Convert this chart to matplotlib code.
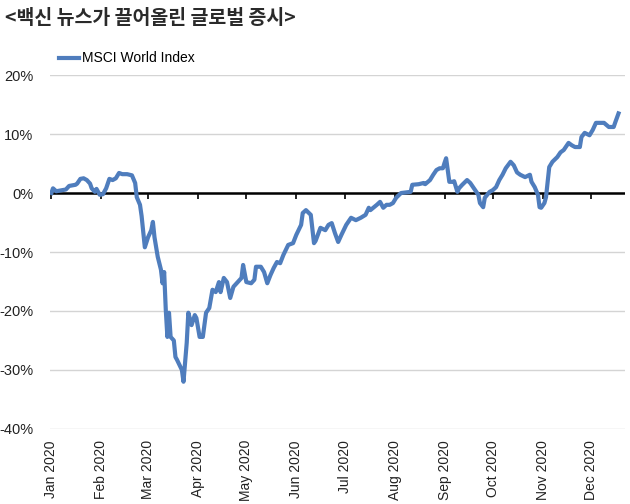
import numpy as np
import pandas as pd
import matplotlib
matplotlib.use("Agg")
import matplotlib.pyplot as plt
import matplotlib.dates as mdates
from matplotlib.ticker import FuncFormatter

plt.rcParams['font.family'] = ['Liberation Sans', 'Noto Sans CJK KR', 'DejaVu Sans']

# MSCI World Index, % change since start of 2020
dates = [
    "2020-01-01", "2020-01-02", "2020-01-04", "2020-01-06", "2020-01-10", "2020-01-12",
    "2020-01-16", "2020-01-17", "2020-01-19", "2020-01-21", "2020-01-23", "2020-01-25",
    "2020-01-26", "2020-01-28", "2020-01-29", "2020-01-31", "2020-02-02", "2020-02-04",
    "2020-02-06", "2020-02-08", "2020-02-10", "2020-02-12", "2020-02-14", "2020-02-17",
    "2020-02-20", "2020-02-22", "2020-02-23", "2020-02-25", "2020-02-26", "2020-02-28",
    "2020-03-01", "2020-03-03", "2020-03-04", "2020-03-05", "2020-03-07", "2020-03-09",
    "2020-03-10", "2020-03-11", "2020-03-12", "2020-03-13", "2020-03-14", "2020-03-15",
    "2020-03-17", "2020-03-18", "2020-03-19", "2020-03-22", "2020-03-23", "2020-03-25",
    "2020-03-26", "2020-03-28", "2020-03-30", "2020-03-31", "2020-04-02", "2020-04-04",
    "2020-04-06", "2020-04-08", "2020-04-10", "2020-04-12", "2020-04-14", "2020-04-15",
    "2020-04-17", "2020-04-19", "2020-04-21", "2020-04-23", "2020-04-25", "2020-04-28",
    "2020-04-29", "2020-05-01", "2020-05-04", "2020-05-06", "2020-05-07", "2020-05-10",
    "2020-05-12", "2020-05-14", "2020-05-16", "2020-05-18", "2020-05-20", "2020-05-22",
    "2020-05-24", "2020-05-27", "2020-05-30", "2020-06-01", "2020-06-04", "2020-06-05",
    "2020-06-07", "2020-06-10", "2020-06-12", "2020-06-13", "2020-06-16", "2020-06-19",
    "2020-06-21", "2020-06-23", "2020-06-25", "2020-06-27", "2020-06-29", "2020-07-02",
    "2020-07-05", "2020-07-08", "2020-07-11", "2020-07-14", "2020-07-16", "2020-07-17",
    "2020-07-21", "2020-07-23", "2020-07-25", "2020-07-27", "2020-07-29", "2020-07-31",
    "2020-08-02", "2020-08-05", "2020-08-08", "2020-08-11", "2020-08-12", "2020-08-16",
    "2020-08-19", "2020-08-20", "2020-08-23", "2020-08-25", "2020-08-27", "2020-08-29",
    "2020-08-31", "2020-09-01", "2020-09-02", "2020-09-04", "2020-09-06", "2020-09-07",
    "2020-09-09", "2020-09-10", "2020-09-12", "2020-09-15", "2020-09-17", "2020-09-20",
    "2020-09-22", "2020-09-23", "2020-09-25", "2020-09-26", "2020-09-29", "2020-10-01",
    "2020-10-03", "2020-10-05", "2020-10-07", "2020-10-09", "2020-10-12", "2020-10-14",
    "2020-10-16", "2020-10-18", "2020-10-21", "2020-10-24", "2020-10-25", "2020-10-27",
    "2020-10-29", "2020-10-30", "2020-10-31", "2020-11-02", "2020-11-03", "2020-11-05",
    "2020-11-07", "2020-11-10", "2020-11-12", "2020-11-14", "2020-11-17", "2020-11-19",
    "2020-11-21", "2020-11-24", "2020-11-25", "2020-11-27", "2020-11-30", "2020-12-02",
    "2020-12-04", "2020-12-06", "2020-12-09", "2020-12-12", "2020-12-15", "2020-12-16",
    "2020-12-18",
]
msci_world = [
    0.0, 0.8, 0.3, 0.4, 0.6, 1.2,
    1.4, 1.6, 2.4, 2.5, 2.2, 1.6,
    0.8, 0.2, 0.7, -0.3, -0.2, 0.8,
    2.4, 2.2, 2.5, 3.4, 3.2, 3.2,
    3.0, 1.7, -0.7, -2.0, -3.9, -9.2,
    -7.5, -6.3, -4.9, -7.5, -10.8, -13.0,
    -15.3, -13.4, -19.8, -24.4, -20.3, -24.4,
    -25.0, -27.8, -28.3, -30.0, -32.0, -25.4,
    -20.3, -22.4, -20.7, -21.2, -24.4, -24.4,
    -20.3, -19.5, -16.4, -16.8, -15.1, -16.8,
    -14.4, -15.1, -17.8, -15.9, -15.3, -14.4,
    -12.2, -15.1, -15.3, -14.7, -12.5, -12.5,
    -13.4, -15.3, -13.9, -12.7, -11.7, -11.9,
    -10.5, -8.8, -8.5, -7.1, -5.4, -3.4,
    -2.9, -3.7, -8.5, -8.1, -5.9, -6.3,
    -5.4, -5.1, -6.8, -8.3, -7.1, -5.4,
    -4.2, -4.6, -4.2, -3.7, -2.5, -2.9,
    -2.0, -1.5, -2.5, -2.0, -2.0, -1.7,
    -0.8, 0.0, 0.1, 0.2, 1.4, 1.5,
    1.7, 1.5, 2.2, 3.1, 3.9, 4.2,
    4.2, 5.1, 5.9, 1.9, 1.9, 2.0,
    0.2, 0.8, 1.4, 2.2, 1.7, 0.5,
    -0.3, -1.7, -2.4, -0.8, 0.2, 0.5,
    1.0, 2.2, 3.1, 4.2, 5.3, 4.7,
    3.5, 3.1, 2.7, 3.1, 1.9, 1.0,
    -0.3, -2.4, -2.5, -1.7, -0.7, 4.4,
    5.3, 6.1, 6.9, 7.3, 8.5, 8.1,
    7.8, 7.8, 9.5, 10.2, 9.8, 10.7,
    11.9, 11.9, 11.9, 11.2, 11.2, 12.0,
    13.5,
]
month_ticks = pd.date_range("2020-01-01", "2020-12-01", freq="MS")
y_ticks = [20, 10, 0, -10, -20, -30, -40]

df = pd.DataFrame({"date": pd.to_datetime(dates), "value": msci_world})

fig = plt.figure(figsize=(6.3, 5.04), dpi=100)
ax = fig.add_axes([0.079, 0.149, 0.913, 0.702])

ax.set_ylim(-40, 20)
ax.set_xlim(pd.Timestamp("2019-12-31"), pd.Timestamp("2020-12-22"))

# gridlines
ax.set_yticks(y_ticks)
ax.yaxis.set_major_formatter(FuncFormatter(lambda v, p: f"{int(v)}%"))
ax.grid(axis="y", color="#d4d4d4", linewidth=1)
ax.set_axisbelow(True)
ax.axhline(0, color="black", linewidth=1.8, zorder=2)

ax.plot(df["date"], df["value"], color="#4f7dbd", linewidth=3.0,
        label="MSCI World Index", zorder=3, solid_joinstyle="round")

for s in ax.spines.values():
    s.set_visible(False)

ax.set_xticks(month_ticks)
ax.xaxis.set_major_formatter(mdates.DateFormatter("%b %Y"))
ax.tick_params(axis="x", length=0, labelrotation=90, pad=8, labelsize=10, labelcolor="#222222")
ax.tick_params(axis="y", length=0, pad=12, labelsize=10.5, labelcolor="#222222")

# small ticks along the zero line
sec = ax.secondary_xaxis(40 / 60)
sec.set_xticks(month_ticks)
sec.spines["top"].set_visible(False)
sec.spines["bottom"].set_visible(False)
sec.tick_params(length=4, width=1.2, direction="in", labeltop=False, labelbottom=False,
                top=True, bottom=False, color="black")

ax.legend(loc="lower left", bbox_to_anchor=(0.0, 1.0), frameon=False,
          handlelength=1.4, handletextpad=0.2, fontsize=10, borderaxespad=0.3)

fig.text(0.008, 0.963, "<백신 뉴스가 끌어올린 글로벌 증시>", fontsize=14,
         family=["Noto Sans CJK KR", "DejaVu Sans"], fontweight="bold",
         color="#2a2a2a", va="center", ha="left")

fig.savefig("out.png", dpi=100)
